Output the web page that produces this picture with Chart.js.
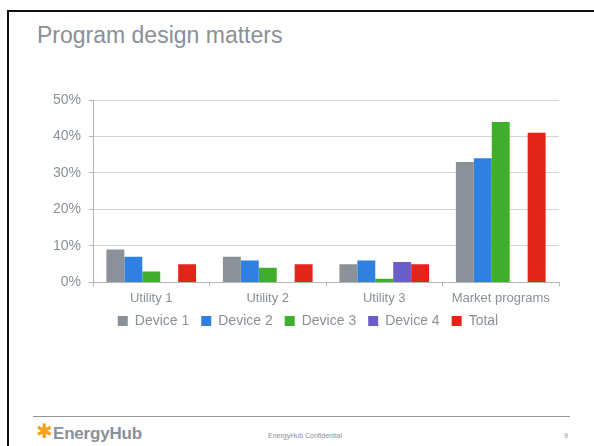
<!DOCTYPE html>
<html>
<head>
<meta charset="utf-8">
<script src="https://cdn.jsdelivr.net/npm/chart.js@4"></script>
<style>
  html, body { margin: 0; padding: 0; background: #fff; }
  body { width: 594px; height: 446px; position: relative; overflow: hidden;
         font-family: "Liberation Sans", Arial, sans-serif; }
  .frame { position: absolute; left: 7px; top: 10px; width: 700px; height: 600px;
           border-top: 2px solid #111; border-left: 2px solid #111; }
  .title { position: absolute; left: 37px; top: 22px; font-size: 23px; color: #8a9098; }
  .chart-box { position: absolute; left: 0; top: 0; width: 594px; height: 346px; }
  .footer-line { position: absolute; left: 33px; top: 416px; width: 537px; height: 1px; background: #8f959c; }
  .star { position: absolute; left: 36px; top: 419px; font-size: 20px; color: #f5a11c;
          font-family: "DejaVu Sans", sans-serif; }
  .logo { position: absolute; left: 53px; top: 424px; font-size: 17px; font-weight: bold;
          color: #8a9098; letter-spacing: -0.2px; white-space: nowrap; }
  .confidential { position: absolute; left: 268px; top: 432px; font-size: 7px; color: #8a9098; }
  .page { position: absolute; left: 564px; top: 432px; font-size: 7px; color: #8a9098; }
</style>
</head>
<body>
<div class="frame"></div>
<div class="title">Program design matters</div>
<div class="chart-box"><canvas id="chart"></canvas></div>
<div class="footer-line"></div>
<div class="star">✱</div>
<div class="logo">EnergyHub</div>
<div class="confidential">EnergyHub Confidential</div>
<div class="page">9</div>

<script>
// categories and series (percent)
const categories = ['Utility 1', 'Utility 2', 'Utility 3', 'Market programs'];
const device1 = [9, 7, 5, 33];
const device2 = [7, 6, 6, 34];
const device3 = [3, 4, 1, 44];
const device4 = [null, null, 5.6, null];
const total = [5, 5, 5, 41];
const yTicks = [0, 10, 20, 30, 40, 50];

const textGray = '#8a9098';
const fontFamily = '"Liberation Sans", Arial, sans-serif';

// y labels may run into the left padding; legend sits a bit closer to the axis
const tweakLayout = {
  id: 'tweakLayout',
  afterLayout(chart) {
    chart.scales.y.left = 0;
    chart.legend.top -= 8;
    chart.legend.bottom -= 8;
  }
};

const chart = new Chart(document.getElementById('chart'), {
  type: 'bar',
  data: {
    labels: categories,
    datasets: [
      { label: 'Device 1', data: device1, backgroundColor: '#8b9198' },
      { label: 'Device 2', data: device2, backgroundColor: '#2f80e1' },
      { label: 'Device 3', data: device3, backgroundColor: '#40ae2c' },
      { label: 'Device 4', data: device4, backgroundColor: '#6a5fc8' },
      { label: 'Total', data: total, backgroundColor: '#e2241b' }
    ]
  },
  options: {
    responsive: true,
    maintainAspectRatio: false,
    animation: false,
    datasets: {
      bar: { categoryPercentage: 0.77, barPercentage: 1.0, borderWidth: 0 }
    },
    layout: { padding: { left: 57, right: 35, top: 100, bottom: 0 } },
    scales: {
      x: {
        grid: { display: true, drawOnChartArea: false, drawTicks: true, tickLength: 4, color: '#b4b4b4' },
        border: { color: '#b4b4b4' },
        ticks: { color: textGray, font: { size: 13, family: fontFamily }, padding: 4 }
      },
      y: {
        min: 0,
        max: 50,
        afterFit: (scale) => { scale.width = 36; },
        afterBuildTicks: (scale) => { scale.ticks = yTicks.map(v => ({ value: v })); },
        grid: { color: '#d4d4d4', tickLength: 4, tickColor: '#b4b4b4' },
        border: { color: '#b4b4b4' },
        ticks: {
          color: textGray,
          padding: 8,
          font: { size: 14, family: fontFamily },
          callback: v => v + '%'
        }
      }
    },
    plugins: {
      legend: {
        position: 'bottom',
        labels: {
          color: textGray,
          boxWidth: 10,
          boxHeight: 10,
          padding: 12,
          font: { size: 14, family: fontFamily }
        }
      },
      tooltip: { enabled: false }
    }
  },
  plugins: [tweakLayout]
});
</script>
</body>
</html>
